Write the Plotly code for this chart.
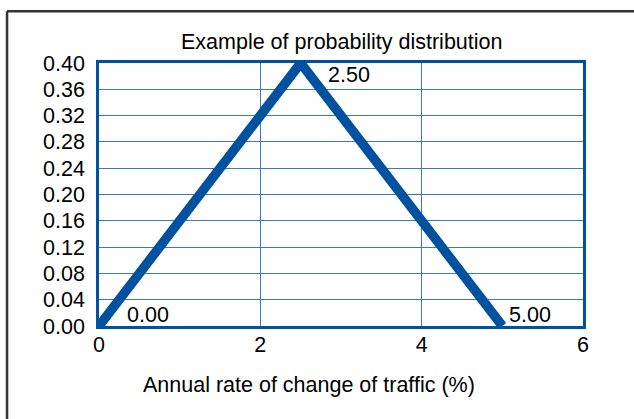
import plotly.graph_objects as go

# Data
x_vals = [0.0, 2.5, 5.0]
y_vals = [0.0, 0.40, 0.0]
label_text = ["0.00", "2.50", "5.00"]
x_ticks = [0, 2, 4, 6]
y_ticks = [0.00, 0.04, 0.08, 0.12, 0.16, 0.20, 0.24, 0.28, 0.32, 0.36, 0.40]
title_text = "Example of probability distribution"
xaxis_title = "Annual rate of change of traffic (%)"

# Styles
BLUE = "#0051a0"
GRID = "#3f78bc"
FONT = "Liberation Sans, Arial, sans-serif"
FS = 21.5
label_shift = [(26, 11), (25, -12), (5, 11)]

fig = go.Figure()
fig.add_trace(go.Scatter(
    x=x_vals, y=y_vals, mode="lines",
    line=dict(color=BLUE, width=9.5),
    cliponaxis=False, hoverinfo="skip", showlegend=False,
))

for xv, yv, t, (dx, dy) in zip(x_vals, y_vals, label_text, label_shift):
    fig.add_annotation(x=xv, y=yv, text=t, showarrow=False,
                       xanchor="left", yanchor="middle",
                       xshift=dx, yshift=dy,
                       font=dict(size=FS, color="black", family=FONT))

fig.add_annotation(text=title_text, xref="paper", yref="paper",
                   x=0.5, y=1, yanchor="middle", yshift=21, showarrow=False,
                   font=dict(size=FS, color="black", family=FONT))
fig.add_annotation(text=xaxis_title, xref="paper", yref="paper",
                   x=0.434, y=-0.224, xanchor="center", yanchor="middle",
                   showarrow=False,
                   font=dict(size=FS, color="black", family=FONT))

# outer border (cropped at right/bottom): top and left edges
BX0, BY1 = -0.19, 1.197
fig.add_shape(type="line", xref="paper", yref="paper",
              x0=BX0, x1=1.2, y0=BY1, y1=BY1,
              line=dict(color="#333333", width=2.5))
fig.add_shape(type="line", xref="paper", yref="paper",
              x0=BX0, x1=BX0, y0=-0.5, y1=BY1,
              line=dict(color="#333333", width=2.5))

fig.update_xaxes(range=[0, 6], tickvals=x_ticks, ticktext=[str(v) for v in x_ticks],
                 showgrid=True, gridcolor=GRID, gridwidth=1.2,
                 showline=True, linecolor=BLUE, linewidth=2.5, mirror=True,
                 zeroline=False, ticks="", ticklabelstandoff=-3,
                 tickfont=dict(size=FS, color="black", family=FONT))
fig.update_yaxes(range=[0, 0.4], tickvals=y_ticks, tickformat=".2f",
                 showgrid=True, gridcolor=GRID, gridwidth=1.2,
                 showline=True, linecolor=BLUE, linewidth=2.5, mirror=True,
                 zeroline=False, ticks="", ticklabelstandoff=7,
                 tickfont=dict(size=FS, color="black", family=FONT))

fig.update_layout(width=634, height=419,
                  margin=dict(l=99, r=51, t=63, b=93, autoexpand=False),
                  paper_bgcolor="white", plot_bgcolor="white",
                  font=dict(family=FONT, color="black"))

fig.write_html("out.html", config={"displayModeBar": False},
               post_script="document.body.style.margin='0px';document.body.style.overflow='hidden';")
